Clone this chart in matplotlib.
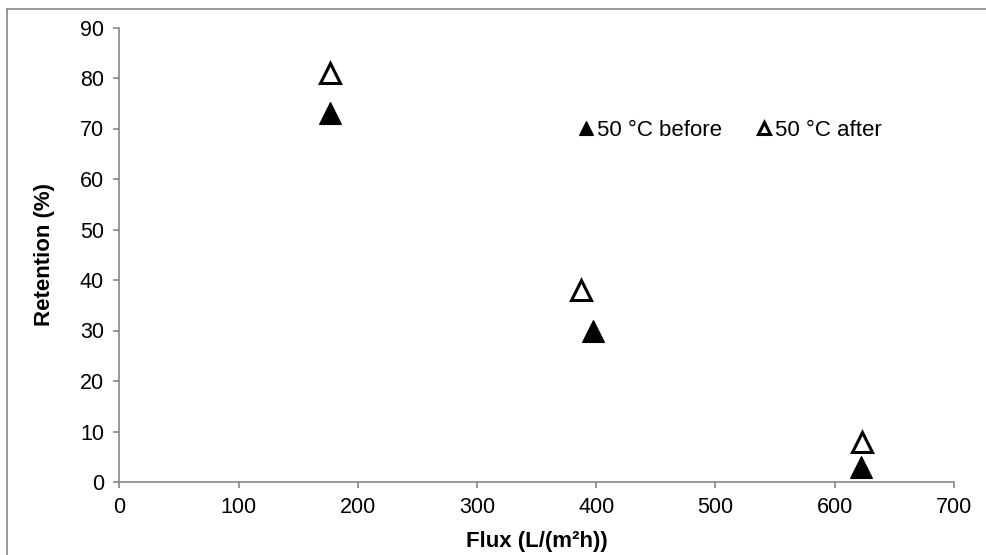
import matplotlib.pyplot as plt
from matplotlib.lines import Line2D

plt.rcParams['font.family'] = ['Liberation Sans', 'DejaVu Sans']

# data
flux_before = [177, 397, 622]
ret_before = [73, 30, 3]
flux_after = [177, 387, 623]
ret_after = [81, 38, 8]
labels = ['50 °C before', '50 °C after']

GRAY = '#868686'

fig = plt.figure(figsize=(9.86, 5.55), dpi=100)
ax = fig.add_axes([119.3 / 986, 73 / 555, (953.8 - 119.3) / 986, (482 - 27.5) / 555])

ax.plot(flux_before, ret_before, linestyle='none', marker='^', ms=16,
        mfc='black', mec='black', mew=0.8, label=labels[0], clip_on=False)
ax.plot(flux_after, ret_after, linestyle='none', marker='^', ms=15,
        mfc='white', mec='black', mew=2.2, label=labels[1], clip_on=False)

ax.set_xlim(0, 700)
ax.set_ylim(0, 90)
ax.set_xticks(range(0, 701, 100))
ax.set_yticks(range(0, 91, 10))

for s in ['top', 'right']:
    ax.spines[s].set_visible(False)
for s in ['left', 'bottom']:
    ax.spines[s].set_color(GRAY)
    ax.spines[s].set_linewidth(1.2)
ax.tick_params(direction='out', length=4, width=1.2, color=GRAY,
               labelsize=15.5, labelcolor='black', pad=7)

ax.set_xlabel('Flux (L/(m²h))', fontsize=16, fontweight='bold', labelpad=9)
ax.set_ylabel('Retention (%)', fontsize=16, fontweight='bold', labelpad=18)

leg = ax.legend(ncol=2, frameon=False, fontsize=16, markerscale=0.62,
                handlelength=0.6, handletextpad=0.2, columnspacing=1.6,
                loc='center left', bbox_to_anchor=(570 / 986, 425 / 555),
                bbox_transform=fig.transFigure, borderaxespad=0)

# outer chart border
fig.add_artist(Line2D([7 / 986, 7 / 986], [0, 1 - 9 / 555], color=GRAY, lw=1.2,
                      transform=fig.transFigure))
fig.add_artist(Line2D([7 / 986, 1], [1 - 9 / 555, 1 - 9 / 555], color=GRAY, lw=1.2,
                      transform=fig.transFigure))

fig.savefig('out.png', dpi=100)
